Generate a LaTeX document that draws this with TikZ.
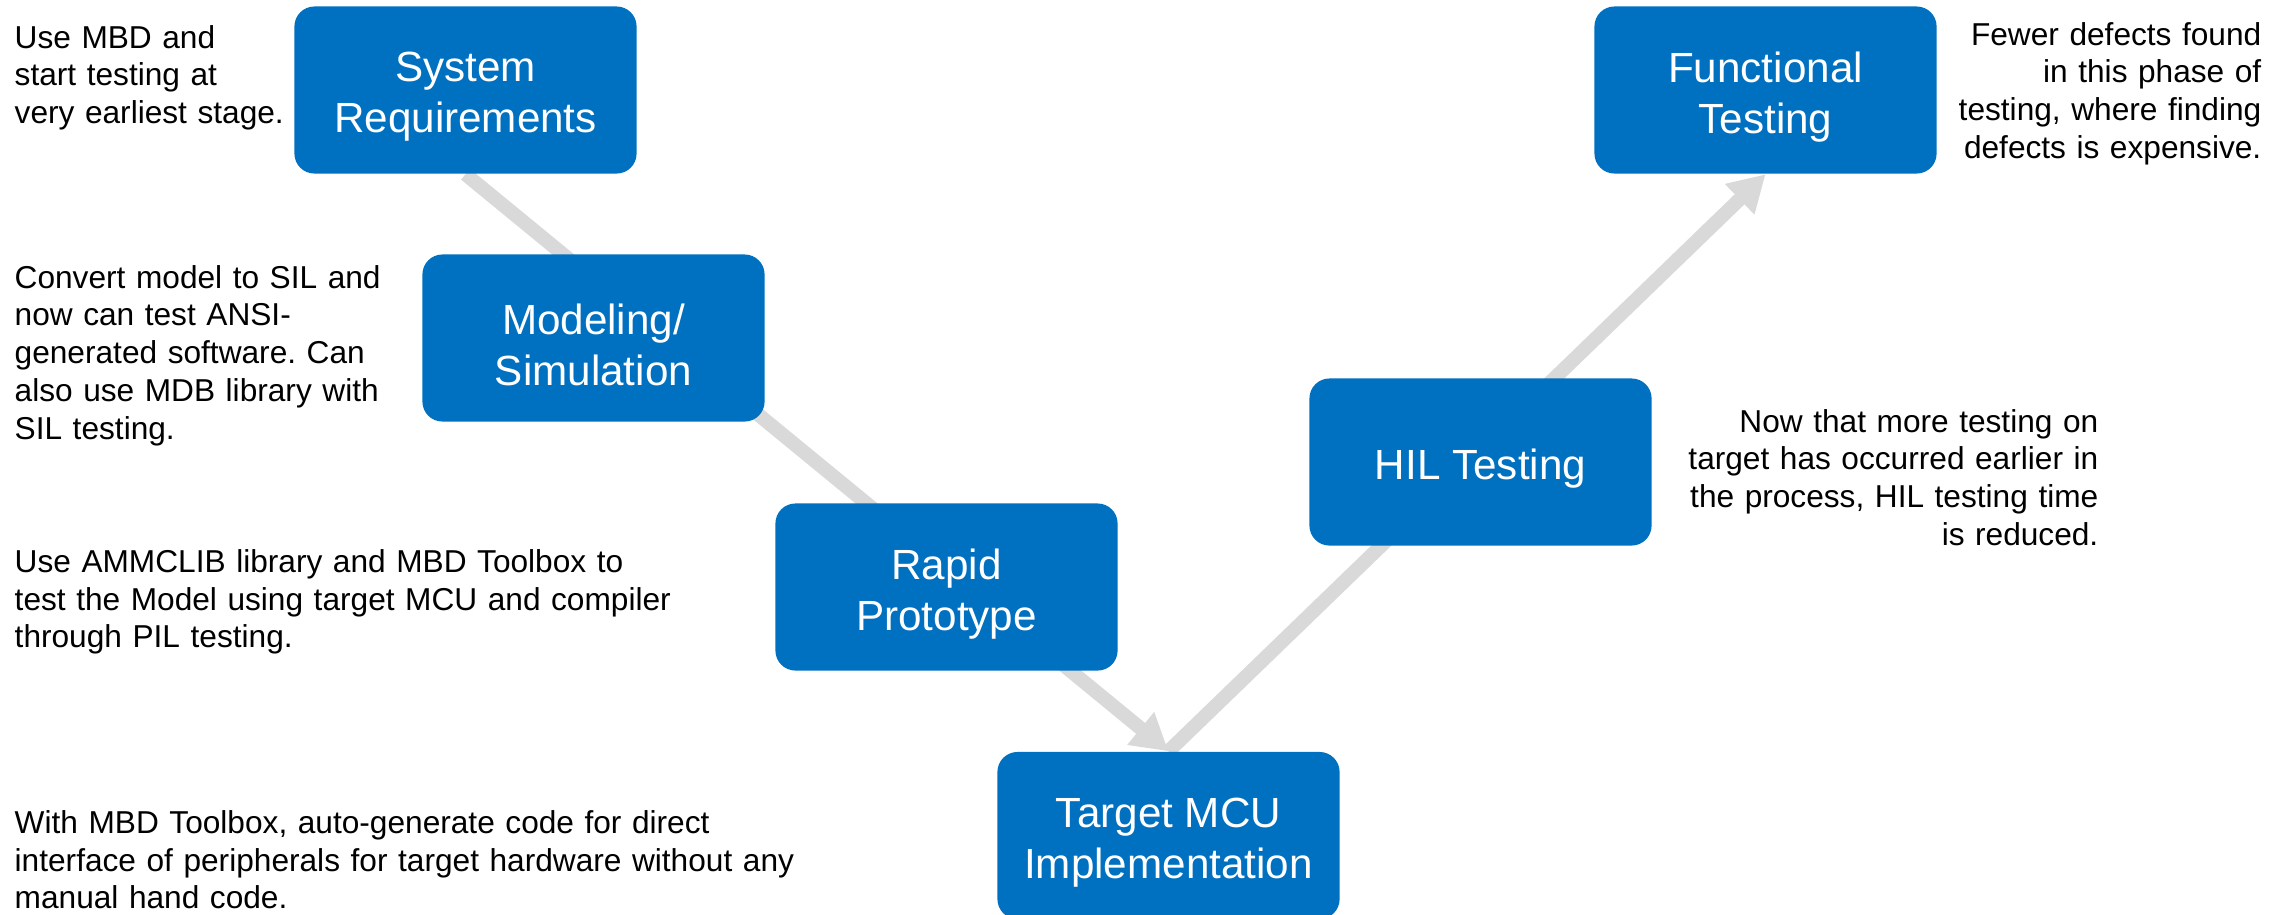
\documentclass[tikz,border=0pt]{standalone}
\usepackage{fontspec}
\setmainfont{Liberation Sans}
\usetikzlibrary{arrows.meta,backgrounds}
\definecolor{stageblue}{HTML}{0070C0}
\definecolor{flowgray}{HTML}{D9D9D9}
\frenchspacing

\begin{document}
\begin{tikzpicture}[x=0.01cm,y=-0.01cm,
  stagetext/.style={text=white, align=center, inner sep=0pt, yshift=-0.07cm,
    font=\fontsize{12pt}{14.5pt}\selectfont},
  stage/.style={fill=stageblue, rounded corners=0.2cm, minimum width=3.42cm,
    minimum height=1.67cm, inner sep=0pt,
    label={[stagetext]center:{#1}}},
  note/.style={inner sep=0pt, text=black, font=\fontsize{9pt}{10.8pt}\selectfont},
  leftnote/.style={note, anchor=base west, align=left},
  rightnote/.style={note, anchor=base east, align=right},
  flow/.style={draw=flowgray, line width=0.14cm,
    -{Triangle[length=0.36cm,width=0.40cm]}}]
\useasboundingbox (0,0) rectangle (2295,914);

% V-model stages
\node[stage={System\\Requirements}]       (sys) at (465.5,90)    {};
\node[stage={Modeling/\\Simulation}]      (mod) at (593.5,338)   {};
\node[stage={Rapid\\Prototype}]           (rap) at (946.5,587)   {};
\node[stage={Target MCU\\Implementation}] (tgt) at (1168.5,835.5) {};
\node[stage={HIL Testing}]                (hil) at (1480.5,462)  {};
\node[stage={Functional\\Testing}]        (fun) at (1765.5,90)   {};

% flow arrows behind the boxes
\begin{scope}[on background layer]
  \draw[flow] (sys.south) -- (tgt.north);
  \draw[flow] (tgt.north) -- (fun.south);
\end{scope}

% notes
\node[leftnote, text width=5cm] (n1) at (14,48)
  {Use MBD and\\start testing at\\very earliest stage.};
\node[leftnote, text width=5cm] (n2) at (14,288)
  {Convert model to SIL and\\now can test ANSI-\\generated software. Can\\also use MDB library with\\SIL testing.};
\node[leftnote, text width=8cm] (n3) at (14,572)
  {Use AMMCLIB library and MBD Toolbox to\\test the Model using target MCU and compiler\\through PIL testing.};
\node[leftnote, text width=8.6cm] (n4) at (14,833)
  {With MBD Toolbox, auto-generate code for direct\\interface of peripherals for target hardware without any\\manual hand code.};
\node[rightnote, text width=4.6cm] (n5) at (2099,432)
  {Now that more testing on\\target has occurred earlier in\\the process, HIL testing time\\is reduced.};
\node[rightnote, text width=4.6cm] (n6) at (2262,45)
  {Fewer defects found\\in this phase of\\testing, where finding\\defects is expensive.};
\end{tikzpicture}
\end{document}
